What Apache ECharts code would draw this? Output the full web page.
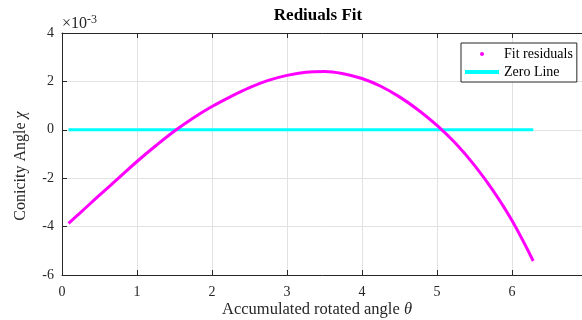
<!DOCTYPE html>
<html><head><meta charset="utf-8">
<script src="https://cdn.jsdelivr.net/npm/echarts@6/dist/echarts.min.js"></script>
<style>html,body{margin:0;padding:0;background:#fff}#c{width:582px;height:320px}</style>
</head><body><div id="c"></div>
<script>
// Data (residuals in units of 1e-3)
const thetaValues = [0.0873, 0.25, 0.5, 0.75, 1.0, 1.25, 1.5, 1.75, 2.0, 2.25, 2.5, 2.75, 3.0, 3.25, 3.5, 3.75, 4.0, 4.25, 4.5, 4.75, 5.0, 5.25, 5.5, 5.75, 6.0, 6.2832];
const residualValues = [-3.87, -3.41, -2.70, -2.01, -1.31, -0.66, -0.05, 0.49, 0.96, 1.37, 1.74, 2.04, 2.25, 2.38, 2.41, 2.32, 2.12, 1.80, 1.36, 0.82, 0.18, -0.57, -1.47, -2.52, -3.75, -5.42];
const zeroLineX = [0.0873, 6.2832];
const zeroLineY = [0, 0];
const xTickValues = [0, 1, 2, 3, 4, 5, 6, 7];
const yTickValues = [-6, -4, -2, 0, 2, 4];
const seriesNames = ['Fit residuals', 'Zero Line'];

const FONT = '"Liberation Serif","Times New Roman",serif';
const AX = '#262626';
const chart = echarts.init(document.getElementById('c'), null, {renderer: 'canvas'});
const xMin = xTickValues[0], xMax = xTickValues[xTickValues.length - 1];
const yMin = yTickValues[0], yMax = yTickValues[yTickValues.length - 1];

chart.setOption({
  animation: false,
  backgroundColor: '#fff',
  title: {
    text: 'Rediuals Fit', left: 313, top: 2, textAlign: 'center',
    textStyle: {fontFamily: FONT, fontWeight: 'bold', fontSize: 17, color: '#000'}
  },
  grid: {left: 62, top: 33, right: -5, bottom: 45, containLabel: false, outerBoundsMode: 'none'},
  legend: {
    orient: 'vertical', left: 461, top: 43,
    padding: [3, 4, 2, 4], itemGap: 2,
    itemWidth: 34, itemHeight: 4, itemTextGap: 5,
    borderColor: AX, borderWidth: 1, backgroundColor: '#fff',
    textStyle: {fontFamily: FONT, fontSize: 14, color: '#000', lineHeight: 16},
    data: [{name: seriesNames[0], icon: 'circle'}, {name: seriesNames[1], icon: 'rect'}]
  },
  xAxis: [{
    type: 'value', min: xMin, max: xMax, interval: 1, position: 'bottom',
    axisLine: {show: true, onZero: false, lineStyle: {color: AX, width: 1}},
    axisTick: {show: true, inside: true, length: 5, lineStyle: {color: AX}},
    axisLabel: {fontFamily: FONT, fontSize: 14, color: AX, margin: 10, showMaxLabel: false},
    splitLine: {show: true, lineStyle: {color: '#e2e2e2', width: 1}}
  }, {
    type: 'value', min: xMin, max: xMax, interval: 1, position: 'top',
    axisLine: {show: true, onZero: false, lineStyle: {color: AX, width: 1}},
    axisTick: {show: true, inside: true, length: 5, lineStyle: {color: AX}},
    axisLabel: {show: false}, splitLine: {show: false}
  }],
  yAxis: [{
    type: 'value', min: yMin, max: yMax, interval: 2,
    axisLine: {show: true, onZero: false, lineStyle: {color: AX, width: 1}},
    axisTick: {show: true, inside: true, length: 5, lineStyle: {color: AX}},
    axisLabel: {fontFamily: FONT, fontSize: 14, color: AX, margin: 8},
    splitLine: {show: true, lineStyle: {color: '#e2e2e2', width: 1}}
  }],
  graphic: [
    {type: 'text', left: 62, top: 14, style: {
      text: '{a|×10}{b|-3}', rich: {
        a: {fontFamily: FONT, fontSize: 16, fill: AX, verticalAlign: 'bottom', lineHeight: 18},
        b: {fontFamily: FONT, fontSize: 12, fill: AX, verticalAlign: 'top', lineHeight: 12, padding: [0, 0, 8, 0]}
      }}},
    {type: 'text', x: 317, y: 310, style: {
      text: 'Accumulated rotated angle {i|θ}', align: 'center', verticalAlign: 'middle',
      fontFamily: FONT, fontSize: 16.5, fill: AX,
      rich: {i: {fontFamily: FONT, fontSize: 16.5, fontStyle: 'italic', fill: AX}}
    }},
    {type: 'text', x: 21, y: 166, rotation: Math.PI / 2, style: {
      text: 'Conicity Angle {i|χ}', align: 'center', verticalAlign: 'middle',
      fontFamily: FONT, fontSize: 16, fill: AX,
      rich: {i: {fontFamily: FONT, fontSize: 16, fontStyle: 'italic', fill: AX}}
    }}
  ],
  series: [{
    type: 'line', name: seriesNames[1], z: 2, symbol: 'none',
    data: zeroLineX.map((x, i) => [x, zeroLineY[i]]),
    lineStyle: {color: '#00ffff', width: 3}, itemStyle: {color: '#00ffff'}
  }, {
    type: 'line', name: seriesNames[0], z: 3, symbol: 'none', smooth: 0.4,
    data: thetaValues.map((x, i) => [x, residualValues[i]]),
    lineStyle: {color: '#ff00ff', width: 3}, itemStyle: {color: '#ff00ff'}
  }]
});
</script></body></html>
